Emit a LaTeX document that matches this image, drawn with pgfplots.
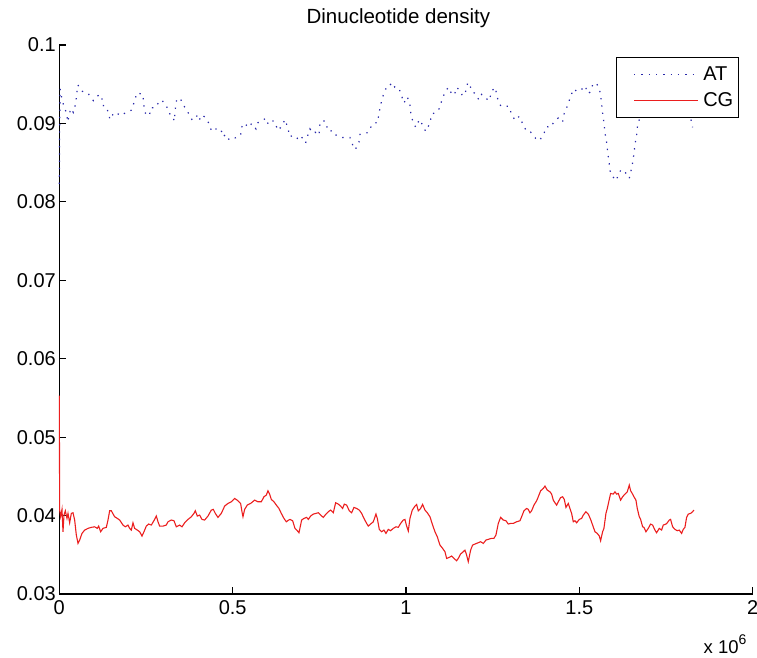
\documentclass[border=0pt]{standalone}
\usepackage{fontspec}
\setmainfont{Liberation Sans}
\usepackage{pgfplots}
\usepackage{pgfplotstable}
\pgfplotsset{compat=1.18}

\pgfplotstableread{
x y
0 0.0823
1000 0.0890
2500 0.0944
6800 0.0933
13600 0.0921
21200 0.0913
24100 0.0902
32800 0.0919
40500 0.0914
47200 0.0925
50100 0.0938
53900 0.0949
62600 0.0942
74100 0.0939
83700 0.0938
98200 0.0929
105800 0.0933
115500 0.0937
122200 0.0934
125100 0.0923
134700 0.0922
141400 0.0914
146200 0.0905
157800 0.0914
170200 0.0912
179900 0.0910
191400 0.0914
208700 0.0917
216400 0.0928
224100 0.0939
232700 0.0938
241400 0.0937
243300 0.0924
249100 0.0912
259700 0.0910
264500 0.0920
276000 0.0920
285600 0.0926
294300 0.0930
307700 0.0924
316400 0.0913
326000 0.0910
331800 0.0903
335600 0.0923
339400 0.0932
351000 0.0930
362500 0.0920
374000 0.0912
383700 0.0904
398100 0.0910
402900 0.0904
412500 0.0911
422100 0.0907
431700 0.0900
439400 0.0890
449000 0.0893
465400 0.0893
473100 0.0883
479800 0.0886
490400 0.0879
501900 0.0881
511500 0.0882
523000 0.0885
527900 0.0899
533600 0.0900
547100 0.0895
554800 0.0900
567300 0.0893
573000 0.0901
588400 0.0904
595100 0.0907
602800 0.0899
610500 0.0903
619200 0.0903
624000 0.0898
631700 0.0891
643200 0.0898
650900 0.0905
658600 0.0895
665300 0.0883
675000 0.0885
686500 0.0881
694200 0.0885
703800 0.0880
710500 0.0875
715300 0.0883
723000 0.0893
729700 0.0888
737400 0.0889
749000 0.0885
751800 0.0899
758600 0.0904
769100 0.0902
774000 0.0891
780700 0.0890
787400 0.0891
795100 0.0886
807600 0.0883
817200 0.0882
826800 0.0882
838400 0.0882
843200 0.0877
849900 0.0867
857600 0.0869
864300 0.0876
867200 0.0886
876800 0.0888
889300 0.0888
900800 0.0897
908500 0.0901
918100 0.0901
922000 0.0913
927800 0.0925
931600 0.0933
937400 0.0939
945100 0.0948
953700 0.0949
960500 0.0952
968100 0.0946
979700 0.0945
987400 0.0935
994100 0.0926
1003700 0.0934
1011400 0.0924
1014300 0.0912
1021100 0.0900
1028700 0.0895
1038400 0.0905
1048000 0.0898
1056600 0.0890
1069100 0.0900
1073900 0.0912
1086400 0.0914
1094100 0.0917
1104700 0.0931
1112400 0.0940
1122000 0.0946
1131600 0.0938
1139300 0.0936
1146000 0.0946
1155600 0.0942
1163300 0.0935
1171000 0.0939
1177700 0.0951
1182500 0.0952
1189300 0.0941
1199900 0.0938
1210400 0.0930
1218100 0.0937
1230600 0.0932
1240200 0.0929
1246900 0.0941
1256600 0.0946
1261400 0.0938
1266200 0.0928
1273900 0.0922
1288300 0.0922
1296000 0.0922
1304600 0.0912
1314300 0.0904
1326700 0.0909
1338300 0.0898
1347900 0.0890
1359400 0.0889
1373900 0.0881
1384400 0.0878
1396000 0.0885
1405600 0.0896
1417100 0.0895
1426700 0.0902
1439200 0.0907
1451700 0.0902
1456500 0.0913
1468100 0.0925
1474800 0.0935
1484400 0.0944
1492100 0.0941
1503600 0.0942
1516100 0.0948
1525700 0.0938
1530500 0.0940
1540200 0.0951
1549800 0.0951
1557500 0.0944
1561300 0.0937
1564200 0.0925
1567100 0.0913
1570900 0.0901
1573800 0.0888
1578600 0.0876
1581500 0.0864
1585300 0.0852
1588200 0.0840
1594900 0.0833
1605500 0.0827
1612300 0.0834
1619900 0.0841
1626700 0.0840
1633400 0.0837
1644000 0.0830
1648800 0.0839
1653600 0.0850
1657400 0.0861
1660300 0.0873
1665100 0.0885
1668000 0.0898
1680000 0.0915
1700000 0.0935
1720000 0.0940
1740000 0.0935
1760000 0.0940
1780000 0.0935
1800000 0.0930
1815000 0.0915
1820800 0.0907
1826600 0.0895
}\ATdata

\pgfplotstableread{
x y
0 0.0553
1060 0.0407
3940 0.03985
7790 0.04079
10670 0.03794
13550 0.04006
17400 0.04061
22200 0.03964
25090 0.04028
29900 0.03908
34700 0.04028
39510 0.04036
44320 0.03943
49120 0.03752
53930 0.03645
58730 0.03688
65460 0.03773
73150 0.03815
82770 0.03837
92380 0.0385
101990 0.03857
109680 0.03837
113530 0.03866
119300 0.03794
126030 0.03837
135640 0.0385
140450 0.03943
145250 0.04061
150060 0.04061
159670 0.03985
167360 0.03964
174090 0.03943
183700 0.03879
190430 0.03857
198120 0.03879
202930 0.03837
207740 0.03815
212540 0.03908
217350 0.03837
225040 0.03815
231770 0.03794
238500 0.03739
244270 0.03794
251000 0.03866
257730 0.03892
265420 0.03879
275030 0.03951
279840 0.03994
284640 0.03921
289450 0.03866
299060 0.03866
308670 0.03879
313480 0.03921
323090 0.03943
330780 0.03934
337510 0.03857
347120 0.03879
353850 0.03857
361540 0.03908
371160 0.03951
380770 0.03985
388460 0.04028
392310 0.04061
398080 0.03994
404800 0.04006
411530 0.03951
419220 0.03943
428840 0.03994
438450 0.0407
444220 0.04079
449980 0.04028
457670 0.03977
467290 0.04028
476900 0.04121
486510 0.04155
496130 0.04176
505740 0.04219
515350 0.04189
523040 0.04155
526890 0.04049
529770 0.03985
534580 0.04079
542270 0.04134
551880 0.04155
563420 0.04197
573030 0.04176
582640 0.04176
590330 0.0424
597060 0.04261
601860 0.04316
606670 0.04274
611480 0.04206
619170 0.04176
625900 0.04134
633590 0.04091
640320 0.04028
648010 0.03964
654740 0.03921
661470 0.03943
665340 0.03951
673030 0.03934
679760 0.03837
686490 0.03807
691300 0.03781
698990 0.03943
705710 0.03964
713410 0.03977
718210 0.03951
724940 0.03994
732630 0.04019
740320 0.04028
747050 0.04036
753780 0.04006
761470 0.03977
769160 0.04019
775890 0.04049
782620 0.0407
790310 0.04036
797040 0.04163
804730 0.04146
811460 0.04121
817220 0.04091
822030 0.04146
828760 0.04134
836450 0.04061
843180 0.04036
849910 0.04104
857600 0.04091
865290 0.0407
872020 0.04028
878750 0.03964
886440 0.039
891240 0.03866
897970 0.03892
905660 0.03921
913350 0.04019
917200 0.03964
922970 0.03824
929700 0.03794
936420 0.03815
942190 0.03773
948920 0.03824
955650 0.03807
963340 0.03837
971030 0.03857
977760 0.0385
984490 0.039
992180 0.03943
996990 0.03951
1001800 0.03866
1006600 0.03803
1011400 0.03964
1018100 0.0407
1025800 0.04121
1030600 0.04142
1035400 0.04061
1042200 0.04091
1047900 0.04142
1054700 0.0407
1061400 0.04036
1069100 0.03985
1076800 0.03879
1083500 0.03794
1090200 0.0373
1097900 0.03624
1105600 0.03582
1112300 0.03539
1117200 0.03454
1124800 0.03467
1131600 0.03484
1138300 0.03454
1146000 0.03424
1150800 0.03454
1157500 0.0351
1165200 0.03539
1170000 0.0356
1174800 0.03497
1179600 0.03412
1186400 0.0356
1192100 0.03624
1198900 0.03637
1208500 0.03654
1215200 0.03667
1222900 0.03645
1230600 0.03688
1237300 0.03697
1246900 0.0371
1253700 0.0371
1259400 0.03752
1266200 0.039
1272900 0.03977
1280600 0.03943
1288300 0.03934
1295000 0.03892
1301700 0.039
1309400 0.039
1319000 0.03921
1328700 0.03934
1333500 0.03985
1340200 0.04061
1347900 0.04091
1352700 0.04079
1357500 0.04036
1362300 0.04061
1369100 0.04134
1376800 0.04189
1381600 0.0424
1388300 0.04316
1396000 0.04346
1400800 0.04376
1407500 0.04325
1415200 0.04303
1420000 0.04274
1424800 0.04197
1429600 0.04163
1434400 0.04134
1439200 0.04176
1446000 0.0423
1451700 0.0424
1456500 0.04206
1461400 0.04104
1468100 0.04155
1472900 0.04091
1477700 0.04028
1482500 0.03921
1487300 0.03934
1492100 0.03908
1499800 0.03951
1506500 0.03964
1511300 0.04006
1519000 0.04049
1525800 0.04019
1532500 0.03951
1538300 0.03879
1545000 0.03794
1551700 0.03773
1557500 0.03739
1561300 0.03679
1567100 0.03794
1570900 0.03837
1576700 0.04028
1580600 0.04091
1586300 0.04206
1590200 0.04282
1597900 0.04274
1602700 0.04303
1607500 0.04274
1612300 0.04282
1619000 0.04197
1624800 0.0424
1631500 0.04274
1638200 0.04303
1644000 0.04389
1647900 0.04316
1653600 0.04274
1657500 0.0424
1663200 0.04197
1667100 0.04091
1672800 0.03985
1676700 0.03951
1682500 0.03857
1686300 0.0385
1692100 0.03794
1698800 0.03837
1705500 0.03892
1711300 0.03879
1718000 0.03815
1722800 0.03781
1730500 0.03837
1737300 0.03815
1742100 0.03879
1749800 0.03892
1753600 0.03908
1759400 0.03943
1763200 0.03951
1769000 0.03857
1775700 0.03824
1782400 0.03807
1788200 0.03815
1794900 0.03773
1799700 0.03824
1804500 0.0385
1809300 0.03977
1814100 0.04019
1820900 0.04028
1826600 0.04049
1830500 0.0407
}\CGdata

\begin{document}
\begin{tikzpicture}
\useasboundingbox (-59.3pt,-63pt) rectangle (697.7pt,594pt);
\begin{axis}[
  scale only axis, width=693.4pt, height=549pt,
  xmin=0, xmax=2000000, ymin=0.03, ymax=0.1,
  axis lines*=left,
  axis line style={line width=1.1pt},
  every tick/.style={black, line width=1.1pt},
  major tick length=7pt,
  tick align=inside,
  xtick={0,500000,1000000,1500000,2000000},
  xticklabels={0,0.5,1,1.5,2},
  ytick={0.03,0.04,0.05,0.06,0.07,0.08,0.09,0.1},
  yticklabels={0.03,0.04,0.05,0.06,0.07,0.08,0.09,0.1},
  scaled x ticks=false, scaled y ticks=false,
  tick label style={font=\fontsize{20}{24}\selectfont},
  xticklabel style={yshift=-3pt},
  title={Dinucleotide density},
  title style={font=\fontsize{20.5}{24}\selectfont, at={(0.489,1)}, anchor=base, yshift=16pt},
  legend style={at={(0.9807,0.9776)}, anchor=north east, draw=black, line width=1.1pt,
    font=\fontsize{20}{24}\selectfont, inner xsep=3pt, inner ysep=6.5pt, row sep=5.7pt,
    nodes={inner sep=2.5pt}},
  legend cell align=left,
  legend image code/.code={\path (-14pt,0pt); \draw[#1] (0pt,0pt) -- (64pt,0pt); \path (66pt,0pt);},
  clip=false,
]
\addplot[color={rgb,255:red,40;green,40;blue,170}, line width=1.2pt, dash pattern=on 1.3pt off 6pt] table[x=x,y=y] {\ATdata};
\addlegendentry{AT}
\addplot[color={rgb,255:red,235;green,30;blue,30}, line width=1.1pt] table[x=x,y=y] {\CGdata};
\addlegendentry{CG}
\node[anchor=base east, font=\fontsize{18.5}{20}\selectfont] at (axis description cs:0.9961,0) [yshift=-59pt] {x 10\raisebox{0.45em}{\fontsize{14}{14}\selectfont 6}};
\end{axis}
\end{tikzpicture}
\end{document}
